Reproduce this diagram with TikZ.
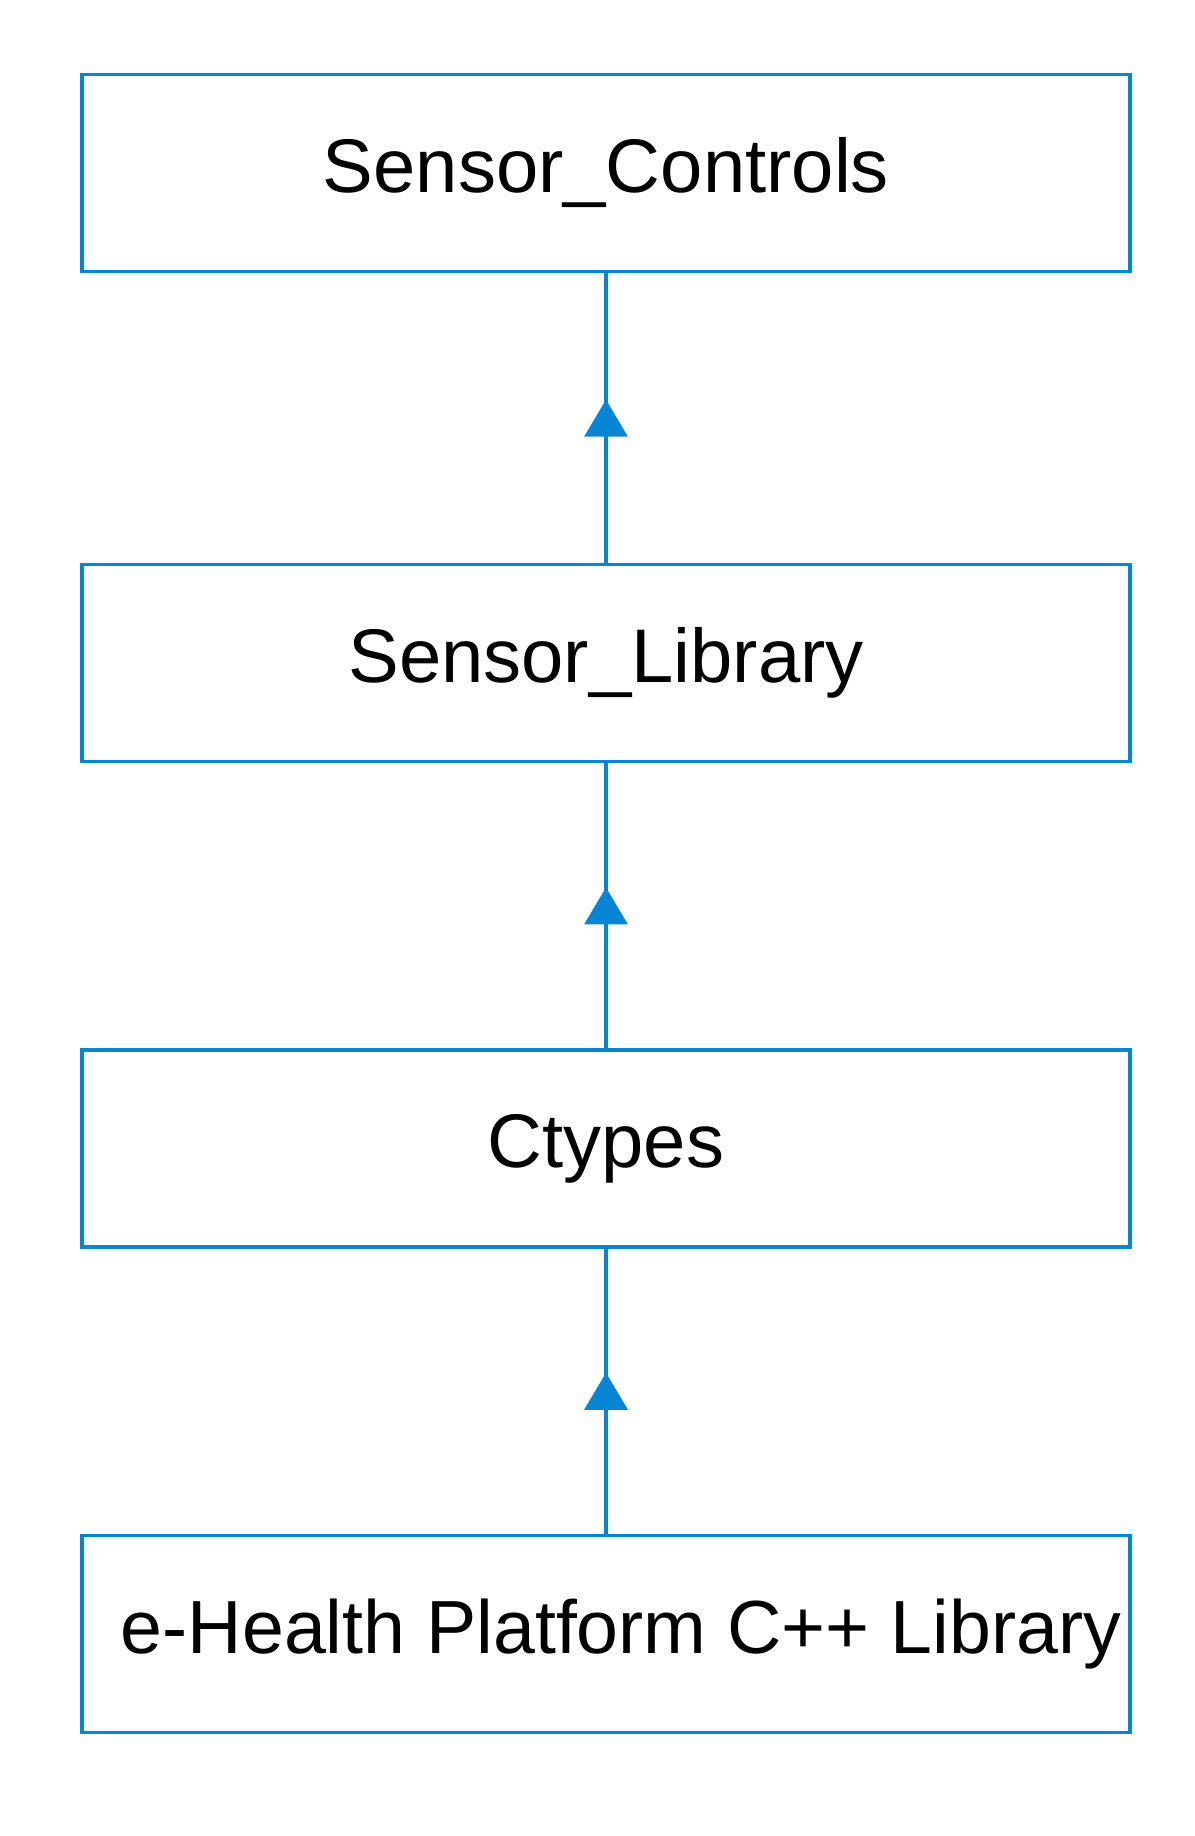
\documentclass[tikz,border=0pt]{standalone}
\usepackage{fontspec}
\setmainfont{Liberation Sans}
\usetikzlibrary{arrows.meta,positioning,decorations.markings}
\definecolor{umlblue}{RGB}{5,133,212}
\tikzset{
  pkgbox/.style  = {draw=umlblue,line width=3.3pt,minimum width=1048pt,minimum height=197pt,
                    inner sep=0pt,font=\fontsize{76}{90}\selectfont},
  inherit/.style = {umlblue,line width=3.3pt,postaction={decorate},
                    decoration={markings,mark=at position 0.5 with
                      {\arrow[xshift=18.5pt]{Triangle[length=37pt,width=43pt]}}}}
}

\begin{document}
\begin{tikzpicture}[node distance=285pt]
  \useasboundingbox (0,0) rectangle (1194pt,-1836pt);
  \node[pkgbox] (ctrl) at (606pt,-173pt) {Sensor\_Controls};
  \node[pkgbox,below=290pt of ctrl] (lib) {Sensor\_Library};
  \node[pkgbox,below=of lib] (ctypes) {Ctypes};
  \node[pkgbox,below=of ctypes,font=\fontsize{75.3}{90}\selectfont] (ehealth)
    {\hspace*{30pt}e-Health Platform C++ Library};
  \draw[inherit] (lib) -- (ctrl);
  \draw[inherit] (ctypes) -- (lib);
  \draw[inherit] (ehealth) -- (ctypes);
\end{tikzpicture}
\end{document}
